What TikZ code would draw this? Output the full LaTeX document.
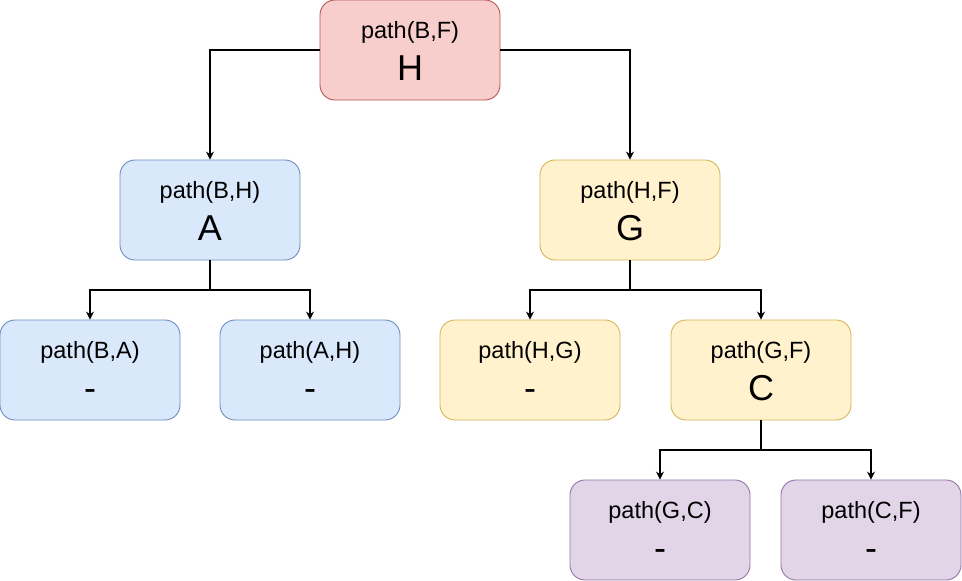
\documentclass[tikz,border=0pt]{standalone}
\usepackage{fontspec}
\setmainfont{Liberation Sans}
\usetikzlibrary{arrows.meta}
\definecolor{redF}{HTML}{F8CECC}\definecolor{redD}{HTML}{B85450}
\definecolor{bluF}{HTML}{DAE8FC}\definecolor{bluD}{HTML}{6C8EBF}
\definecolor{yelF}{HTML}{FFF2CC}\definecolor{yelD}{HTML}{D6B656}
\definecolor{purF}{HTML}{E1D5E7}\definecolor{purD}{HTML}{9673A6}
\begin{document}
\begin{tikzpicture}[x=1pt,y=-1pt,
  box/.style={rounded corners=15pt, minimum width=180pt, minimum height=100pt, line width=0.9pt, inner sep=0pt},
  redbox/.style={box, draw=redD, fill=redF},
  blubox/.style={box, draw=bluD, fill=bluF},
  yelbox/.style={box, draw=yelD, fill=yelF},
  purbox/.style={box, draw=purD, fill=purF},
  top/.style={anchor=base, yshift=11.5pt, inner sep=0pt, font=\fontsize{23.5}{28}\selectfont},
  big/.style={anchor=base, yshift=-30pt, inner sep=0pt, font=\fontsize{36}{40}\selectfont},
  conn/.style={line width=1.1pt, -{Stealth[length=8pt,width=8pt]}}
]
\useasboundingbox (0,0) rectangle (962,581);
\fill[white] (0,0) rectangle (962,581);

\node[redbox] (H) at (410,50) {};
\node[blubox] (A) at (210,210) {};
\node[yelbox] (G) at (630,210) {};
\node[blubox] (BA) at (90,370) {};
\node[blubox] (AH) at (310,370) {};
\node[yelbox] (HG) at (530,370) {};
\node[yelbox] (GF) at (761,370) {};
\node[purbox] (GC) at (660,530) {};
\node[purbox] (CF) at (871,530) {};

\node[top] (Ht) at (H.center) {path(B,F)};
\node[big] (Hb) at (H.center) {H};
\node[top] (At) at (A.center) {path(B,H)};
\node[big] (Ab) at (A.center) {A};
\node[top] (Gt) at (G.center) {path(H,F)};
\node[big] (Gb) at (G.center) {G};
\node[top] (BAt) at (BA.center) {path(B,A)};
\node[big] (BAb) at (BA.center) {-};
\node[top] (AHt) at (AH.center) {path(A,H)};
\node[big] (AHb) at (AH.center) {-};
\node[top] (HGt) at (HG.center) {path(H,G)};
\node[big] (HGb) at (HG.center) {-};
\node[top] (GFt) at (GF.center) {path(G,F)};
\node[big] (GFb) at (GF.center) {C};
\node[top] (GCt) at (GC.center) {path(G,C)};
\node[big] (GCb) at (GC.center) {-};
\node[top] (CFt) at (CF.center) {path(C,F)};
\node[big] (CFb) at (CF.center) {-};

\coordinate (aJ) at (210,290);
\coordinate (gJ) at (630,290);
\coordinate (cJ) at (761,450);

\draw[conn] (H.west) -| (A.north);
\draw[conn] (H.east) -| (G.north);
\draw[line width=1.1pt] (A.south) -- (aJ);
\draw[conn] (aJ) -| (BA.north);
\draw[conn] (aJ) -| (AH.north);
\draw[line width=1.1pt] (G.south) -- (gJ);
\draw[conn] (gJ) -| (HG.north);
\draw[conn] (gJ) -| (GF.north);
\draw[line width=1.1pt] (GF.south) -- (cJ);
\draw[conn] (cJ) -| (GC.north);
\draw[conn] (cJ) -| (CF.north);
\end{tikzpicture}
\end{document}
